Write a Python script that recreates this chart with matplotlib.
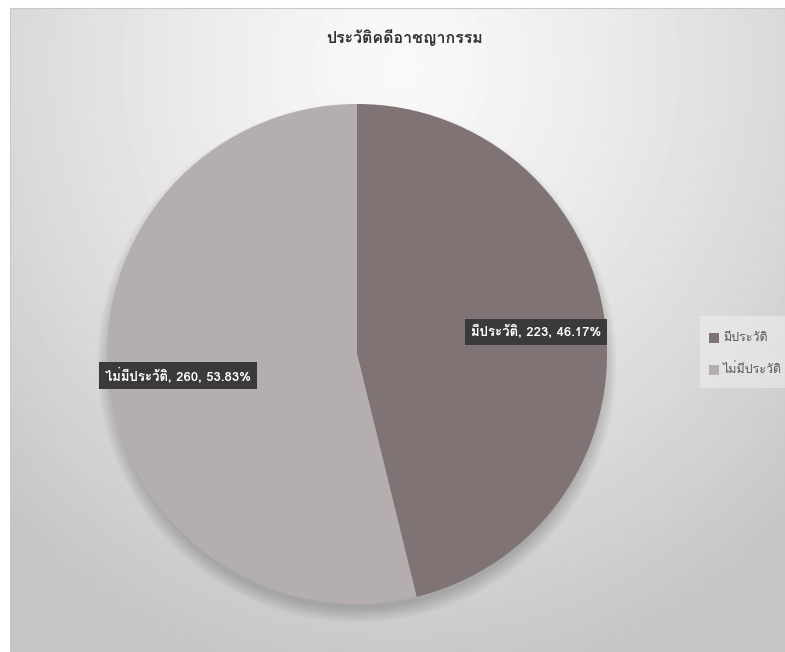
import numpy as np
import matplotlib.pyplot as plt
from matplotlib import font_manager
from matplotlib.ft2font import FT2Font

title = 'ประวัติคดีอาชญากรรม'
names = ['มีประวัติ', 'ไม่มีประวัติ']
counts = [223, 260]
colors = ['#7f7473', '#b5aeae']


# find a font that has Thai glyphs
def thai_fonts():
    found = []
    for f in font_manager.fontManager.ttflist:
        try:
            ft = FT2Font(f.fname)
            if ft.get_char_index(ord('ป')) and f.name not in found:
                found.append(f.name)
        except Exception:
            pass
    return found


tf = thai_fonts()
plt.rcParams['font.family'] = tf + ['DejaVu Sans']

fig = plt.figure(figsize=(7.85, 6.52), dpi=100)
W, H = 785, 652

# chart background with radial gradient
bg = fig.add_axes([10 / W, 0, 775 / W, 644 / H])
yy, xx = np.mgrid[0:644, 0:775]
d = np.sqrt(((xx - 390) / 560) ** 2 + ((yy - 60) / 620) ** 2)
val = np.clip(0.975 - 0.20 * d ** 1.3, 0.77, 1)
bg.imshow(val, cmap='gray', vmin=0, vmax=1, aspect='auto', interpolation='bilinear')
bg.set_xticks([])
bg.set_yticks([])
for s in bg.spines.values():
    s.set_color('#c8c8c8')

# lighter legend area
fig.patches.append(plt.Rectangle((700 / W, 1 - 388 / H), 85 / W, 72 / H,
                                 transform=fig.transFigure, fc='white', alpha=0.35, ec='none'))

cx, cy, r = 357, 354, 250
m = 1.12
ax = fig.add_axes([(cx - r * m) / W, (H - cy - r * m) / H, 2 * m * r / W, 2 * m * r / H])
ax.axis('off')

# soft shadow under the pie
for i in range(10):
    c = plt.Circle((0, -0.035), 0.985 + 0.006 * i, color='black', alpha=0.02, lw=0)
    ax.add_patch(c)

total = sum(counts)
labels = [f'{n}, {v}, {v / total * 100:.2f}%' for n, v in zip(names, counts)]
wedges, texts = ax.pie(counts, colors=colors, startangle=90, counterclock=False,
                       labels=labels, labeldistance=0.72, radius=1,
                       wedgeprops=dict(linewidth=0))
ax.set_xlim(-m, m)
ax.set_ylim(-m, m)
for t in texts:
    t.set_ha('center')
    t.set_va('center')
    t.set_color('white')
    t.set_fontweight('bold')
    t.set_fontsize(9.5)
    t.set_bbox(dict(boxstyle='square,pad=0.45', fc='#3a3a3a', ec='none'))

fig.text(405 / W, 1 - 37 / H, title, ha='center', va='center', fontsize=11.5,
         fontweight='semibold', color='#333333')

# legend
for i, (n, c) in enumerate(zip(names, colors)):
    y = 1 - (338 + 32 * i) / H
    fig.patches.append(plt.Rectangle((709 / W, y - 5 / H), 10 / W, 10 / H,
                                     transform=fig.transFigure, fc=c, ec='none'))
    fig.text(723 / W, y, n, ha='left', va='center', fontsize=9, color='#595959')

fig.savefig('out.png', dpi=100)
